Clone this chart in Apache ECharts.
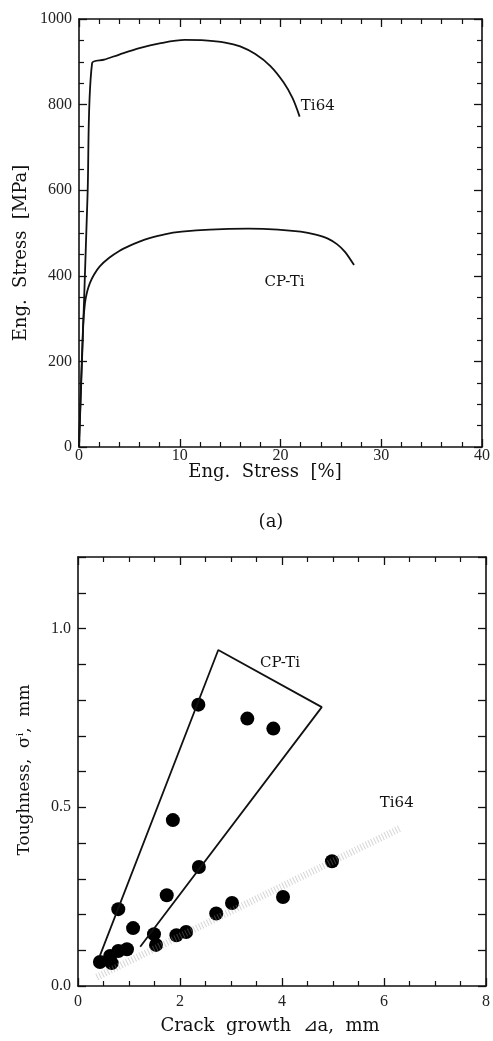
<!DOCTYPE html>
<html>
<head>
<meta charset="utf-8">
<script src="https://cdn.jsdelivr.net/npm/echarts@6/dist/echarts.min.js"></script>
<style>
html,body{margin:0;padding:0;background:#fff;}
#chart{width:493px;height:1041px;}
</style>
</head>
<body>
<div id="chart"></div>
<script>
// ---- (a) tensile curves: [strain %, stress MPa]
const ti64Curve = [[0,0],[0.5,340],[0.85,590],[1.3,897],[2.5,905],[4.0,917],[6.0,932],[8.0,943],[10.5,951],[12.5,950],[14.5,945],[16.0,936],[17.5,918],[19.0,890],[20.3,852],[21.2,815],[21.9,772]];
const cpTiCurve = [[0,0],[0.4,280],[0.59,336],[0.8,362],[1.08,383],[1.5,403],[2.06,422],[3.0,442],[4.0,458],[5.0,470],[6.0,480],[7.0,488],[8.5,497],[10.2,503],[13.0,508],[16.8,510],[19.75,508],[22.0,503],[23.5,496],[24.7,487],[25.6,474],[26.4,456],[27.3,425]];
const topXTicks = {min:0, max:40, interval:10};
const topYTicks = {min:0, max:1000, interval:200};

// ---- (b) toughness vs crack growth: [crack growth mm, toughness mm]
const cpTiEnvelope = [[0.43,0.085],[2.75,0.94],[4.78,0.78],[1.22,0.11]];
const ti64Trend = [[0.37,0.025],[6.3,0.44]];
const toughnessPoints = [[0.43,0.067],[0.63,0.084],[0.66,0.064],[0.79,0.098],[0.96,0.103],[0.79,0.215],[1.08,0.162],[1.49,0.145],[1.53,0.115],[1.74,0.254],[1.86,0.464],[1.93,0.142],[2.12,0.151],[2.37,0.333],[2.36,0.787],[2.71,0.203],[3.02,0.232],[3.32,0.748],[3.83,0.72],[4.02,0.249],[4.98,0.349]];
const botXTicks = {min:0, max:8, interval:2};
const botYTicks = {min:0, max:1.2, interval:0.1};

// ---- annotations (data units)
const topNotes = [{name:'Ti64', value:[23.7,797]},{name:'CP-Ti', value:[20.4,385]}];
const botNotes = [{name:'CP-Ti', value:[3.96,0.902]},{name:'Ti64', value:[6.25,0.511]}];

const FONT = '"Liberation Serif", "DejaVu Serif", serif';
const WFONT = '"DejaVu Serif", "Liberation Serif", serif';
const INK = '#111';

function xAx(grid, pos, t, labels, minorSplit) {
  return {
    type:'value', gridIndex:grid, position:pos, min:t.min, max:t.max, interval:t.interval,
    axisLine:{show:true, onZero:false, lineStyle:{color:INK, width:1.6}},
    axisTick:{show:true, inside:true, length:8, lineStyle:{color:INK, width:1.3}},
    minorTick:{show:minorSplit>0, splitNumber:minorSplit||5, length:5, lineStyle:{color:INK, width:1.2}},
    axisLabel:{show:labels, color:'#222', fontFamily:FONT, fontSize:16, margin:pos==='bottom'?(grid===0?1:8):8},
    splitLine:{show:false}
  };
}
function yAx(grid, pos, t, labels, minorSplit, fmt) {
  return {
    type:'value', gridIndex:grid, position:pos, min:t.min, max:t.max, interval:t.interval,
    axisLine:{show:true, onZero:false, lineStyle:{color:INK, width:1.6}},
    axisTick:{show:true, inside:true, length:8, lineStyle:{color:INK, width:1.3}},
    minorTick:{show:minorSplit>0, splitNumber:minorSplit||5, length:5, lineStyle:{color:INK, width:1.2}},
    axisLabel:{show:labels, color:'#222', fontFamily:FONT, fontSize:16, margin:7, formatter:fmt},
    splitLine:{show:false}
  };
}
const topYFmt = v => String(Math.round(v));
const botYFmt = v => { const k = Math.round(v*10); return (k%5===0 && k<=10) ? (k/10).toFixed(1) : ''; };

const chart = echarts.init(document.getElementById('chart'), null, {renderer:'canvas'});
chart.setOption({
  backgroundColor:'#fff',
  animation:false,
  grid:[
    {left:79, top:19, width:407, height:428},
    {left:78, top:557, width:408, height:429}
  ],
  xAxis:[
    xAx(0,'bottom',topXTicks,true,5),
    xAx(0,'top',topXTicks,false,5),
    xAx(1,'bottom',botXTicks,true,4),
    xAx(1,'top',botXTicks,false,4)
  ],
  yAxis:[
    yAx(0,'left',topYTicks,true,4,topYFmt),
    yAx(0,'right',topYTicks,false,4,topYFmt),
    yAx(1,'left',botYTicks,true,0,botYFmt),
    yAx(1,'right',botYTicks,false,0,botYFmt)
  ],
  series:[
    {type:'line', name:'Ti64', xAxisIndex:0, yAxisIndex:0, data:ti64Curve, showSymbol:false, smooth:0.3,
     lineStyle:{color:INK, width:1.8}},
    {type:'line', name:'CP-Ti', xAxisIndex:0, yAxisIndex:0, data:cpTiCurve, showSymbol:false, smooth:0.3,
     lineStyle:{color:INK, width:1.8}},
    {type:'scatter', xAxisIndex:0, yAxisIndex:0, data:topNotes, symbolSize:0, itemStyle:{opacity:1},
     label:{show:true, position:'inside', formatter:p=>p.name, color:INK, fontFamily:WFONT, fontSize:15}},
    {type:'line', name:'Ti64 trend', xAxisIndex:2, yAxisIndex:2, data:ti64Trend, showSymbol:false,
     lineStyle:{color:'rgba(150,150,150,0.4)', width:7, type:[1,2]}},
    {type:'line', name:'CP-Ti band', xAxisIndex:2, yAxisIndex:2, data:cpTiEnvelope, showSymbol:false,
     lineStyle:{color:INK, width:1.8}},
    {type:'scatter', name:'Data', xAxisIndex:2, yAxisIndex:2, data:toughnessPoints, symbol:'circle', symbolSize:14,
     itemStyle:{color:'#000', opacity:1}},
    {type:'scatter', xAxisIndex:2, yAxisIndex:2, data:botNotes, symbolSize:0, itemStyle:{opacity:1},
     label:{show:true, position:'inside', formatter:p=>p.name, color:INK, fontFamily:WFONT, fontSize:15}}
  ],
  graphic:[
    {type:'text', x:21, y:253, rotation:Math.PI/2,
     style:{text:'Eng.  Stress  [MPa]', fill:INK, font:'18px '+WFONT, textAlign:'center', textVerticalAlign:'middle'}},
    {type:'text', x:265, y:472,
     style:{text:'Eng.  Stress  [%]', fill:INK, font:'18px '+WFONT, textAlign:'center', textVerticalAlign:'middle'}},
    {type:'text', x:271, y:522,
     style:{text:'(a)', fill:INK, font:'18px '+WFONT, textAlign:'center', textVerticalAlign:'middle'}},
    {type:'text', x:25, y:770, rotation:Math.PI/2,
     style:{text:'Toughness,  σⁱ,  mm', fill:INK, font:'17px '+WFONT, textAlign:'center', textVerticalAlign:'middle'}},
    {type:'text', x:270, y:1026,
     style:{text:'Crack  growth  ⊿a,  mm', fill:INK, font:'18px '+WFONT, textAlign:'center', textVerticalAlign:'middle'}}
  ]
});
</script>
</body>
</html>
